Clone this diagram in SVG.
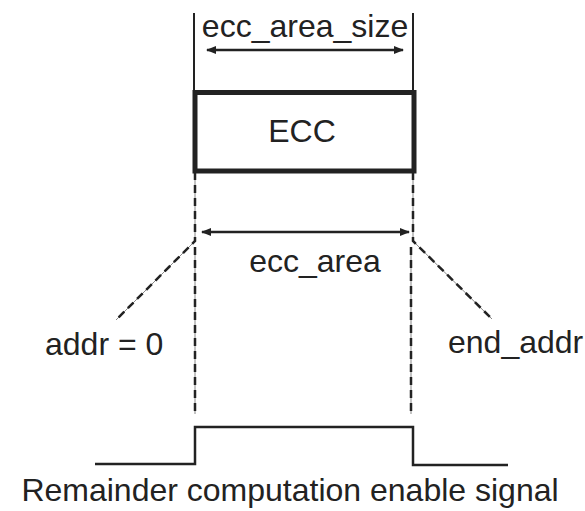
<svg xmlns="http://www.w3.org/2000/svg" width="585" height="511" viewBox="0 0 585 511">
<style>
text{font-family:"Liberation Sans",Arial,sans-serif;font-size:32px;fill:#222}
.thin{stroke:#222;stroke-width:2;fill:none}
.arr{stroke:#222;stroke-width:2.5;fill:none;marker-start:url(#ah);marker-end:url(#ah)}
.dgray{stroke:#888;stroke-width:1;fill:none}
.dash{stroke:#222;stroke-width:2.5;stroke-dasharray:8 5;fill:none}
.sig{stroke:#222;stroke-width:2.5;fill:none}
</style>
<defs>
<marker id="ah" viewBox="0 0 10 8" refX="9" refY="4" markerWidth="10" markerHeight="8" markerUnits="userSpaceOnUse" orient="auto-start-reverse">
<path d="M0,0 L10,4 L0,8 Z" fill="#222"/>
</marker>
</defs>
<g id="connectors">
<line class="thin" x1="194" y1="13" x2="194" y2="92"/>
<line class="thin" x1="413" y1="13" x2="413" y2="92"/>
<line class="arr" x1="207" y1="50" x2="403" y2="50"/>
<path class="dgray" d="M195,172 V241 L116,320"/>
<path class="dash" d="M195,172 V241 L116,320"/>
<path class="dgray" d="M413,172 V241 L492,319"/>
<path class="dash" d="M413,172 V241 L492,319"/>
<line class="dgray" x1="195" y1="247" x2="195" y2="414"/>
<line class="dash" x1="195" y1="247" x2="195" y2="414"/>
<line class="dgray" x1="411" y1="247" x2="411" y2="414"/>
<line class="dash" x1="411" y1="247" x2="411" y2="414"/>
<line class="arr" x1="202" y1="232" x2="409" y2="232"/>
</g>
<g id="ecc-box">
<rect x="195" y="92.5" width="219" height="78.5" fill="none" stroke="#222" stroke-width="5"/>
<text x="302" y="142" text-anchor="middle">ECC</text>
</g>
<g id="label-size"><text x="305" y="37" text-anchor="middle">ecc_area_size</text></g>
<g id="label-area"><text x="315" y="272" text-anchor="middle">ecc_area</text></g>
<g id="label-addr0"><text x="45" y="355">addr = 0</text></g>
<g id="label-end"><text x="448" y="353">end_addr</text></g>
<g id="signal">
<path class="sig" d="M95,464 H195 V427 H413 V465 H508"/>
<text x="290" y="501" text-anchor="middle">Remainder computation enable signal</text>
</g>
</svg>
